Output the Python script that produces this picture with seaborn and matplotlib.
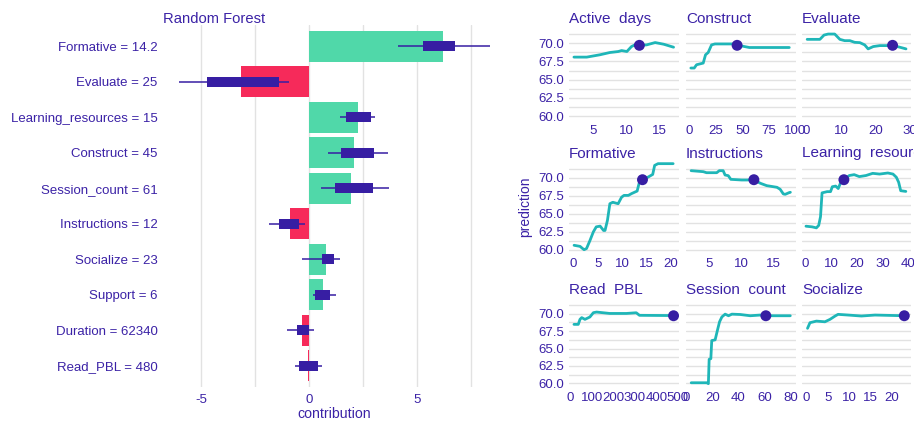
import numpy as np
import matplotlib
matplotlib.use("Agg")
import matplotlib.pyplot as plt
import seaborn as sns

# ---- break-down (left panel) ----
labels = ["Formative = 14.2", "Evaluate = 25", "Learning_resources = 15", "Construct = 45",
          "Session_count = 61", "Instructions = 12", "Socialize = 23", "Support = 6",
          "Duration = 62340", "Read_PBL = 480"]
contribution = [6.17, -3.18, 2.24, 2.08, 1.91, -0.89, 0.79, 0.63, -0.32, -0.05]
box_lo = [5.25, -4.75, 1.70, 1.45, 1.19, -1.39, 0.59, 0.28, -0.58, -0.48]
box_hi = [6.76, -1.39, 2.86, 2.98, 2.93, -0.46, 1.13, 0.96, -0.03, 0.39]
whisk_lo = [4.12, -6.02, 1.42, 0.88, 0.54, -1.88, -0.32, 0.19, -1.02, -0.65]
whisk_hi = [8.37, -0.93, 3.04, 3.63, 3.70, -0.20, 1.42, 1.25, 0.22, 0.59]

# ---- ceteris paribus profiles (right panels) ----
pred = 69.72

active_days_x = [2.05, 4.0, 6.0, 7.5, 8.8, 9.3, 10.1, 10.8, 11.6, 12, 13.1, 14.4, 15.7, 17.2]
active_days_y = [68.1, 68.1, 68.42, 68.73, 68.87, 69.0, 68.87, 69.55, 69.91, 69.72, 69.78, 70.1, 69.87, 69.46]

construct_x = [1.2, 4.4, 6.6, 12.9, 15.1, 17.6, 20.8, 24, 41.3, 45, 50.3, 56.6, 94.4]
construct_y = [66.6, 66.6, 67.05, 67.28, 68.42, 68.73, 69.78, 69.91, 69.91, 69.72, 69.6, 69.42, 69.42]

evaluate_x = [0.2, 3.9, 5.1, 6.3, 8.2, 9.7, 11.1, 12.6, 14.0, 15.5, 16.9, 17.9, 19.4, 21.3, 23.2, 25, 27.1, 28.9]
evaluate_y = [70.54, 70.54, 71.13, 71.27, 71.27, 70.54, 70.36, 70.36, 70.13, 70.09, 69.78, 69.23, 69.55,
              69.68, 69.68, 69.72, 69.46, 69.23]

formative_x = [0.14, 1.37, 1.9, 2.2, 2.7, 3.4, 4.1, 4.7, 5.5, 6.2, 6.5, 7.0, 7.5, 8.1, 9.2, 9.9, 10.4,
               11.3, 11.96, 13.1, 13.5, 14.2, 15.4, 16.3, 16.7, 17.4, 20.5]
formative_y = [60.65, 60.5, 60.2, 60.04, 60.2, 61.3, 62.5, 63.2, 63.3, 62.7, 62.7, 64.1, 66.4, 66.6, 66.4,
               67.3, 67.55, 67.55, 67.8, 68.15, 69.2, 69.72, 70.1, 70.45, 71.7, 71.94, 71.94]

instructions_x = [2.2, 4.1, 4.6, 6.2, 6.6, 7.2, 7.5, 8.0, 8.4, 10.1, 10.9, 12, 13.0, 14.0, 15.6, 16.1,
                  16.6, 16.9, 17.5, 17.7]
instructions_y = [70.97, 70.83, 70.69, 70.69, 70.97, 70.97, 70.37, 70.28, 69.77, 69.68, 69.68, 69.72,
                  69.23, 68.9, 68.67, 68.4, 67.75, 67.7, 67.93, 67.98]

learning_x = [0.24, 2.6, 4.3, 5.2, 5.9, 6.5, 8.5, 9.8, 10.5, 11.8, 12.8, 13.6, 15, 17.1, 19.0, 21.0,
              23.6, 26.2, 28.9, 32.1, 34.1, 35.4, 36.3, 37.1, 39.1]
learning_y = [63.29, 63.2, 63.06, 63.4, 64.6, 67.9, 68.07, 68.07, 68.75, 68.84, 68.5, 69.2, 69.72, 70.3,
              70.42, 70.15, 70.3, 70.6, 70.5, 70.65, 70.5, 70.06, 69.37, 68.2, 68.1]

read_pbl_x = [18, 38, 46, 54, 69, 92, 108, 123, 184, 261, 307, 322, 461, 480]
read_pbl_y = [68.48, 68.48, 69.2, 69.45, 69.2, 69.54, 70.16, 70.25, 70.05, 70.05, 70.15, 69.78, 69.75, 69.72]

session_x = [3.6, 15.6, 16.8, 17.4, 18.7, 19.4, 22.0, 23.8, 25.4, 27.2, 29.7, 32.3, 34.9, 41.3, 49.0,
             56.7, 61, 67, 79.8]
session_y = [60.08, 60.08, 59.95, 63.45, 63.55, 66.15, 66.25, 67.65, 68.85, 69.55, 69.95, 69.72, 69.95,
             69.9, 69.72, 69.82, 69.72, 69.72, 69.72]

socialize_x = [0.2, 0.78, 2.3, 4.3, 5.5, 6.7, 7.4, 9.8, 12.9, 16.1, 23]
socialize_y = [67.91, 68.72, 68.95, 68.85, 69.2, 69.68, 69.92, 69.82, 69.68, 69.82, 69.72]

panel_titles = ["Active  days", "Construct", "Evaluate", "Formative", "Instructions",
                "Learning  resources", "Read  PBL", "Session  count", "Socialize"]
panel_x = [active_days_x, construct_x, evaluate_x, formative_x, instructions_x,
           learning_x, read_pbl_x, session_x, socialize_x]
panel_y = [active_days_y, construct_y, evaluate_y, formative_y, instructions_y,
           learning_y, read_pbl_y, session_y, socialize_y]
observed = [12, 45, 25, 14.2, 12, 15, 480, 61, 23]
panel_xticks = [[5, 10, 15], [0, 25, 50, 75, 100], [0, 10, 20, 30],
                [0, 5, 10, 15, 20], [5, 10, 15], [0, 10, 20, 30, 40],
                [0, 100, 200, 300, 400, 500], [0, 20, 40, 60, 80], [0, 5, 10, 15, 20]]
panel_xlim = [(1.3, 17.95), (-3.4, 100.3), (-1.3, 30.5),
              (-0.9, 21.6), (1.4, 18.5), (-1.3, 41.3),
              (-5, 503), (-0.4, 83.8), (-1.1, 24.7)]

PURPLE = "#371ea3"
TEXT = "#3b22a6"
GREEN = "#50d8a9"
RED = "#f62a5a"
TEAL = "#1fb6b8"
GRID = "#e2e2e2"

sns.set_theme(style="white")
plt.rcParams['font.family'] = ['Liberation Sans', 'DejaVu Sans']

W, H = 914, 423
fig = plt.figure(figsize=(W / 100, H / 100), dpi=100)


def px_axes(x0, x1, y0, y1):
    return fig.add_axes([x0 / W, 1 - y1 / H, (x1 - x0) / W, (y1 - y0) / H])


# left panel
ax = px_axes(163.7, 505.6, 25, 387)
signs = ["pos" if v >= 0 else "neg" for v in contribution]
sns.barplot(x=contribution, y=labels, hue=signs, palette={"pos": GREEN, "neg": RED},
            dodge=False, width=0.88, saturation=1, legend=False, orient="h", ax=ax,
            linewidth=0)
ypos = np.arange(len(labels))
ax.hlines(ypos, whisk_lo, whisk_hi, color=PURPLE, lw=1.1, zorder=3)
ax.barh(ypos, np.array(box_hi) - np.array(box_lo), left=box_lo, height=0.28,
        color=PURPLE, edgecolor="none", linewidth=0, zorder=4)
ax.set_xlim(-6.74, 9.09)
ax.set_ylim(9.6, -0.6)
ax.set_xticks([-5, 0, 5])
ax.set_xticklabels(["-5", "0", "5"])
ax.set_xticks([-2.5, 2.5, 7.5], minor=True)
ax.grid(True, axis="x", which="both", color=GRID, lw=1)
ax.grid(False, axis="y")
ax.set_axisbelow(True)
ax.tick_params(axis="both", which="both", length=0, colors=TEXT, labelsize=9.5)
ax.tick_params(axis="y", pad=4.5)
ax.tick_params(axis="x", pad=5)
ax.set_xlabel("contribution", color=TEXT, fontsize=10.2, labelpad=1)
ax.set_ylabel("")
for s in ax.spines.values():
    s.set_visible(False)
fig.text(163 / W, 1 - 19 / H, "Random Forest", color=TEXT, fontsize=10.6,
         ha="left", va="center")

# right panels
cols = [(569, 678.5), (686, 795.5), (802, 911.5)]
rows = [(28, 119.7), (162.5, 253.6), (299.2, 386.8)]
for i in range(9):
    r, c = divmod(i, 3)
    pax = px_axes(cols[c][0], cols[c][1], rows[r][0], rows[r][1])
    sns.lineplot(x=panel_x[i], y=panel_y[i], ax=pax, color=TEAL, lw=2, estimator=None)
    sns.scatterplot(x=[observed[i]], y=[pred], ax=pax, color=PURPLE, s=62,
                    edgecolor="none", zorder=5)
    pax.set_xlim(*panel_xlim[i])
    pax.set_ylim(59.5, 72.1)
    pax.set_xticks(panel_xticks[i])
    pax.set_yticks([60, 62.5, 65, 67.5, 70])
    pax.set_yticks([61.25, 63.75, 66.25, 68.75, 71.25], minor=True)
    if c == 0:
        pax.set_yticklabels(["60.0", "62.5", "65.0", "67.5", "70.0"])
    else:
        pax.set_yticklabels([])
    pax.grid(True, axis="y", which="both", color=GRID, lw=1)
    pax.grid(False, axis="x")
    pax.set_axisbelow(True)
    pax.tick_params(axis="both", which="both", length=0, colors=TEXT, labelsize=9.5)
    pax.tick_params(axis="x", pad=3.5)
    pax.tick_params(axis="y", pad=3.5)
    pax.set_xlabel("")
    pax.set_ylabel("")
    for s in pax.spines.values():
        s.set_visible(False)
    pax.text(0, 1 + 9 / (rows[r][1] - rows[r][0]), panel_titles[i], transform=pax.transAxes,
             color=TEXT, fontsize=11, ha="left", va="center", clip_on=False)

fig.text(525 / W, 1 - 207 / H, "prediction", color=TEXT, fontsize=10, rotation=90,
         ha="center", va="center")

fig.savefig("out.png", dpi=100)
